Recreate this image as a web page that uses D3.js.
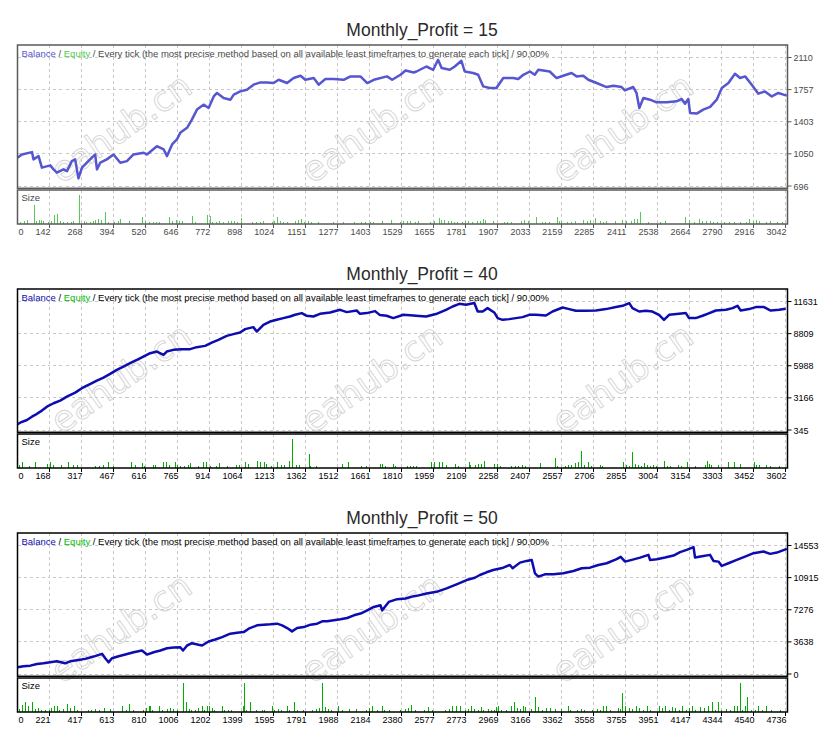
<!DOCTYPE html>
<html>
<head>
<meta charset="utf-8">
<script src="https://cdn.jsdelivr.net/npm/d3@7"></script>
<style>
  body { margin: 0; background: #fff; }
  svg { display: block; }
</style>
</head>
<body>
<svg id="report" width="836" height="741"></svg>
<script>
//titles of the three test reports
var titles = ['Monthly_Profit = 15', 'Monthly_Profit = 40', 'Monthly_Profit = 50'];

var legendRest = ' / Every tick (the most precise method based on all available least timeframes to generate each tick] / 90.00%';

//Monthly_Profit = 15
var xTicks15 = [0, 142, 268, 394, 520, 646, 772, 898, 1024, 1151, 1277, 1403, 1529, 1655, 1781, 1907, 2033, 2159, 2285, 2411, 2538, 2664, 2790, 2916, 3042];
var yTicks15 = [696, 1050, 1403, 1757, 2110];
var trades15 = [16, 33, 73, 79, 99, 112, 145, 158, 171, 197, 211, 230, 243, 256, 270, 289, 322, 329, 342, 368,
    394, 421, 447, 473, 513, 526, 565, 592, 605, 625, 644, 657, 684, 703, 723, 749, 769, 789, 802, 828,
    855, 868, 894, 920, 946, 973, 999, 1025, 1045, 1078, 1104, 1131, 1150, 1183, 1203, 1229, 1262, 1301, 1328, 1367,
    1394, 1420, 1472, 1492, 1525, 1545, 1577, 1588, 1627, 1654, 1673, 1687, 1719, 1739, 1765, 1778, 1811, 1831, 1851, 1877,
    1903, 1930, 1969, 1989, 2009, 2035, 2054, 2068, 2113, 2140, 2166, 2199, 2219, 2245, 2265, 2298, 2337, 2364, 2396, 2409,
    2442, 2455, 2466, 2482, 2508, 2534, 2574, 2613, 2633, 2646, 2659, 2666, 2692, 2718, 2745, 2771, 2791, 2817, 2843, 2863,
    2883, 2909, 2935, 2961, 2988, 3014, 3034, 3047];
var balance15 = [1007, 1043, 1069, 989, 1025, 898, 923, 879, 843, 879, 860, 970, 989, 780, 898, 952, 1043, 879, 952, 989,
    1043, 952, 970, 1043, 1062, 1043, 1134, 1098, 1025, 1153, 1208, 1281, 1336, 1427, 1537, 1591, 1555, 1682, 1720, 1665,
    1646, 1701, 1737, 1756, 1811, 1836, 1836, 1829, 1865, 1829, 1884, 1909, 1865, 1884, 1811, 1873, 1873, 1865, 1902, 1902,
    1829, 1865, 1902, 1865, 1920, 1967, 1945, 1956, 2011, 1975, 2085, 1994, 1975, 2011, 2074, 1956, 1939, 1920, 1792, 1774,
    1774, 1884, 1884, 1873, 1920, 1956, 1920, 1975, 1956, 1884, 1909, 1939, 1902, 1909, 1865, 1829, 1785, 1800, 1785, 1748,
    1785, 1720, 1555, 1665, 1646, 1617, 1617, 1628, 1654, 1602, 1654, 1500, 1493, 1537, 1566, 1646, 1774, 1829, 1931, 1884,
    1902, 1811, 1712, 1737, 1682, 1720, 1701, 1690];
//[trade, size in 0.01 lot]
var sizes15 = [[27, 1.7], [42, 2.3], [54, 4], [82, 19], [90, 2.7], [101, 3.3], [108, 4], [116, 2.7], [136, 1.7], [148, 2.7],
    [160, 9], [171, 10], [183, 2.3], [195, 1.7], [211, 1.7], [227, 1.7], [235, 2.7], [260, 29], [276, 3], [287, 1.7],
    [301, 1.7], [312, 3], [320, 3.3], [334, 5], [344, 3.3], [360, 12], [371, 1.7], [395, 1.7], [411, 2.7], [419, 4.7],
    [454, 2.3], [508, 7], [520, 2.3], [536, 1.7], [548, 1.7], [563, 1.7], [575, 1.7], [611, 7], [623, 2.7], [642, 3.3],
    [654, 2.3], [665, 3], [702, 7.3], [716, 1.7], [761, 8.3], [773, 7.7], [783, 1.7], [799, 1.7], [811, 2.7], [826, 1.7],
    [845, 2.7], [857, 2.3], [869, 2.7], [881, 1.7], [898, 5.7], [940, 1.7], [955, 1.7], [971, 2], [983, 3], [1019, 1.7],
    [1026, 3], [1037, 6.3], [1049, 2.3], [1061, 1.7], [1077, 1.7], [1108, 2.7], [1120, 4], [1132, 4.7], [1144, 1.7], [1159, 2.7],
    [1171, 1.7], [1199, 2], [1261, 2], [1300, 1.7], [1340, 1.7], [1371, 1.7], [1387, 1.7], [1403, 2], [1417, 1.7], [1453, 3],
    [1488, 3.7], [1524, 1.7], [1536, 2.3], [1551, 2.3], [1563, 2.3], [1583, 1.7], [1595, 3], [1641, 1.7], [1657, 2.7], [1676, 5.7],
    [1684, 3.7], [1696, 3.3], [1712, 2.7], [1724, 3], [1736, 2], [1747, 2], [1767, 2], [1779, 3], [1790, 2.3], [1805, 2],
    [1825, 3], [1837, 3], [1849, 4.7], [1857, 4], [1888, 3], [1932, 2], [1943, 1.7], [1959, 1.7], [2001, 3], [2013, 3.7],
    [2029, 3], [2057, 7], [2084, 1.7], [2096, 1.7], [2112, 1.7], [2143, 7], [2151, 2.3], [2158, 3], [2182, 1.7], [2197, 1.7],
    [2213, 3], [2245, 4], [2261, 2.7], [2272, 3.7], [2292, 5.7], [2312, 2.7], [2324, 1.7], [2335, 2.3], [2370, 2.7], [2397, 3.7],
    [2413, 2.7], [2433, 3], [2445, 4.3], [2457, 5], [2468, 12], [2500, 1.7], [2546, 1.7], [2566, 2.3], [2645, 7], [2660, 3.3],
    [2680, 1.7], [2700, 4.7], [2712, 2.7], [2730, 2.3], [2746, 3], [2758, 1.7], [2774, 2], [2801, 1.7], [2821, 2], [2841, 2],
    [2864, 1.7], [2888, 1.7], [2900, 4.7], [2914, 3], [2926, 3.7], [2938, 2.3], [2966, 2], [2981, 2.3], [3009, 2], [3029, 1.7]];

//Monthly_Profit = 40
var xTicks40 = [0, 168, 317, 467, 616, 765, 914, 1064, 1213, 1362, 1512, 1661, 1810, 1959, 2109, 2258, 2407, 2557, 2706, 2855, 3004, 3154, 3303, 3452, 3602];
var yTicks40 = [345, 3166, 5988, 8809, 11631];
var trades40 = [19, 31, 63, 86, 101, 125, 156, 187, 218, 249, 288, 319, 350, 389, 420, 451, 482, 513, 544, 576,
    606, 638, 669, 700, 715, 746, 785, 824, 855, 894, 925, 956, 995, 1026, 1057, 1081, 1119, 1135, 1166, 1197,
    1228, 1259, 1290, 1314, 1345, 1368, 1399, 1430, 1477, 1524, 1555, 1601, 1617, 1648, 1687, 1710, 1741, 1772, 1819, 1865,
    1878, 1925, 1971, 2018, 2049, 2080, 2111, 2150, 2166, 2189, 2212, 2243, 2259, 2282, 2313, 2344, 2375, 2406, 2437, 2484,
    2515, 2562, 2593, 2624, 2671, 2717, 2764, 2811, 2842, 2873, 2888, 2919, 2950, 2981, 3012, 3035, 3059, 3105, 3137, 3152,
    3183, 3215, 3238, 3277, 3324, 3355, 3378, 3393, 3432, 3463, 3502, 3533, 3572, 3603];
var balance40 = [846, 987, 1225, 1515, 1665, 1955, 2395, 2694, 2923, 3274, 3626, 4014, 4305, 4683, 4946, 5271, 5623, 5913, 6214, 6503,
    6793, 7092, 7233, 6943, 7233, 7383, 7444, 7444, 7620, 7734, 8025, 8262, 8614, 8764, 8904, 9203, 9379, 8992, 9582, 9872,
    10022, 10171, 10312, 10462, 10611, 10377, 10312, 10549, 10667, 10901, 10699, 10839, 10549, 10611, 10787, 10435, 10377, 10171, 10462, 10400,
    10377, 10312, 10526, 10901, 11192, 11429, 11341, 11491, 10752, 10752, 11051, 10667, 10171, 10022, 10083, 10171, 10259, 10462, 10462, 10400,
    10752, 11104, 10963, 10813, 10813, 10839, 10963, 11140, 11253, 11491, 11051, 10752, 10813, 10752, 10462, 10022, 10462, 10549, 10611, 10171,
    10171, 10377, 10549, 10839, 10901, 11051, 11253, 10839, 10963, 11140, 11140, 10839, 10901, 10993];
var sizes40 = [[27, 2.7], [41, 5.7], [73, 1.7], [101, 5.7], [156, 4], [170, 6], [184, 2.7], [221, 2.7], [254, 5.7], [277, 2.3],
    [296, 2.7], [379, 1.7], [397, 2], [416, 2.3], [439, 5.7], [463, 1.7], [550, 6], [569, 2.3], [601, 5], [611, 1.7],
    [653, 2.3], [662, 2.7], [699, 5.7], [713, 5.7], [727, 2.7], [754, 5.7], [764, 2.3], [778, 1.7], [796, 1.7], [815, 2.7],
    [824, 4.3], [861, 1.7], [885, 5.7], [896, 5.7], [917, 1.7], [945, 1.7], [958, 5], [996, 2], [1038, 2.3], [1052, 2.7],
    [1079, 6], [1093, 3.3], [1135, 6.7], [1149, 6], [1167, 6], [1176, 3.3], [1200, 1.7], [1228, 6], [1246, 2.7], [1260, 2.7],
    [1284, 6.7], [1300, 29], [1316, 2.7], [1330, 2.3], [1377, 14], [1385, 1.7], [1413, 1.7], [1534, 4], [1562, 6], [1622, 1.7],
    [1645, 1.7], [1710, 3.3], [1720, 4], [1734, 1.7], [1771, 3.3], [1780, 1.7], [1835, 1.7], [1849, 1.7], [1863, 1.7], [1877, 1.7],
    [1947, 6], [1961, 6], [1984, 5.3], [1998, 5.7], [2020, 2.3], [2058, 3.3], [2072, 1.7], [2123, 5.7], [2132, 2.7], [2151, 2.3],
    [2165, 3.3], [2179, 3.3], [2193, 6.7], [2243, 4], [2257, 3.3], [2271, 1.7], [2322, 1.7], [2341, 2], [2355, 1.7], [2374, 2.3],
    [2388, 2], [2456, 4.7], [2526, 10], [2536, 1.7], [2573, 1.7], [2587, 2.3], [2601, 3], [2620, 4.3], [2634, 5.7], [2647, 16.7],
    [2661, 3], [2679, 5.7], [2693, 1.7], [2735, 3], [2744, 1.7], [2842, 5.7], [2856, 2.7], [2874, 1.7], [2888, 16], [2902, 4],
    [2916, 2.3], [2930, 1.7], [2944, 4.3], [2958, 2.3], [2972, 1.7], [2986, 2.3], [3000, 2], [3037, 6.7], [3051, 1.7], [3065, 1.7],
    [3101, 2.3], [3115, 2], [3143, 5.7], [3180, 1.7], [3227, 3], [3236, 6.3], [3246, 3.7], [3255, 3], [3287, 2.3], [3333, 5.7],
    [3361, 5.7], [3389, 4], [3454, 6], [3464, 3], [3478, 2.3], [3509, 2.3], [3528, 1.7], [3570, 2]];

//Monthly_Profit = 50
var xTicks50 = [0, 221, 417, 613, 810, 1006, 1202, 1399, 1595, 1791, 1988, 2184, 2380, 2577, 2773, 2969, 3166, 3362, 3558, 3755, 3951, 4147, 4344, 4540, 4736];
var yTicks50 = [0, 3638, 7276, 10915, 14553];
var trades50 = [25, 61, 103, 144, 184, 225, 266, 317, 348, 389, 440, 491, 543, 563, 583, 604, 645, 686, 737, 788,
    819, 860, 901, 942, 982, 1023, 1040, 1065, 1095, 1136, 1157, 1197, 1238, 1280, 1330, 1372, 1412, 1443, 1494, 1535,
    1576, 1617, 1648, 1679, 1709, 1740, 1781, 1822, 1863, 1894, 1924, 1965, 2006, 2047, 2088, 2129, 2170, 2210, 2251, 2262,
    2302, 2354, 2405, 2456, 2473, 2534, 2595, 2657, 2718, 2780, 2830, 2861, 2902, 2943, 3005, 3045, 3062, 3107, 3148, 3179,
    3199, 3220, 3260, 3312, 3373, 3435, 3486, 3537, 3588, 3639, 3700, 3725, 3752, 3793, 3844, 3895, 3905, 3946, 3997, 4049,
    4089, 4130, 4172, 4181, 4233, 4273, 4294, 4325, 4345, 4386, 4437, 4488, 4540, 4601, 4642, 4683, 4744];
var balance50 = [753, 867, 947, 1140, 1209, 1323, 1437, 1209, 1437, 1551, 1711, 1973, 2281, 1779, 1323, 1779, 2007, 2201, 2463, 2657,
    2201, 2463, 2657, 2920, 3000, 3034, 2657, 3228, 3490, 3307, 3228, 3684, 3912, 4174, 4562, 4676, 4744, 5132, 5509, 5588,
    5623, 5703, 5509, 5201, 4824, 5201, 5315, 5588, 5703, 5965, 5965, 6079, 6193, 6341, 6649, 6843, 7219, 7596, 7790, 7219,
    8166, 8474, 8554, 8816, 8850, 9124, 9306, 9694, 10150, 10641, 10903, 11211, 11519, 11781, 12043, 12351, 11975, 12614, 12808, 12922,
    11405, 11020, 11291, 11291, 11405, 11667, 11975, 12043, 12351, 12546, 13002, 13264, 12728, 12922, 13184, 13492, 12922, 13002, 13184, 13412,
    13800, 14062, 14370, 13184, 13373, 13492, 12808, 12728, 12237, 12546, 12922, 13298, 13686, 13868, 13606, 13754, 14176];
var sizes50 = [[35, 2.3], [53, 6.7], [72, 10], [90, 5.7], [113, 10], [132, 2.7], [150, 4], [169, 1.7], [193, 1.7], [218, 1.7],
    [230, 3.3], [248, 5.7], [267, 5.7], [278, 1.7], [303, 2.7], [327, 7.7], [346, 3.3], [370, 5.7], [389, 1.7], [456, 1.7],
    [474, 1.7], [498, 2.7], [523, 1.7], [553, 3.3], [590, 2.7], [663, 5.7], [688, 1.7], [706, 7.7], [731, 1.7], [792, 1.7],
    [810, 4], [829, 5.7], [840, 5.7], [852, 1.7], [895, 5.7], [914, 1.7], [944, 2.7], [963, 3.3], [981, 2.7], [1006, 1.7],
    [1042, 29], [1060, 10], [1079, 2.7], [1091, 1.7], [1115, 1.7], [1134, 3.3], [1158, 5.7], [1171, 1.7], [1189, 5.7], [1200, 5.7],
    [1219, 3.3], [1231, 1.7], [1280, 5.7], [1292, 1.7], [1317, 1.7], [1335, 1.7], [1408, 5.7], [1414, 29], [1426, 1.7], [1451, 10],
    [1488, 1.7], [1525, 1.7], [1537, 1.7], [1585, 5.7], [1597, 1.7], [1622, 2.7], [1640, 1.7], [1677, 5.7], [1689, 1.7], [1720, 10],
    [1739, 1.7], [1774, 1.7], [1830, 1.7], [1854, 2.7], [1873, 3.3], [1891, 29], [1910, 4.3], [1928, 2.7], [1945, 1.7], [1988, 5.7],
    [2013, 1.7], [2056, 2.7], [2099, 2.7], [2165, 1.7], [2184, 3.3], [2202, 5.7], [2227, 1.7], [2258, 5.7], [2270, 1.7], [2301, 1.7],
    [2373, 1.7], [2404, 2.7], [2422, 3.3], [2441, 7], [2465, 1.7], [2520, 1.7], [2544, 4.3], [2569, 1.7], [2648, 1.7], [2672, 2.7],
    [2690, 5.7], [2715, 5.7], [2740, 5.7], [2770, 1.7], [2789, 2.7], [2807, 5.7], [2826, 2.7], [2850, 1.7], [2868, 4.3], [2880, 1.7],
    [2911, 2.7], [2929, 1.7], [2947, 1.7], [2960, 4.3], [2972, 5.7], [2990, 1.7], [3021, 1.7], [3051, 5.7], [3069, 10], [3088, 3.3],
    [3106, 2.7], [3124, 5.7], [3137, 4.3], [3174, 2.7], [3198, 15], [3217, 4.3], [3240, 1.7], [3265, 3.3], [3289, 3.3], [3320, 2.7],
    [3357, 2.7], [3400, 5.7], [3411, 1.7], [3460, 1.7], [3479, 2.3], [3497, 1.7], [3552, 1.7], [3577, 2.7], [3600, 1.7], [3619, 5.7],
    [3637, 5.7], [3662, 1.7], [3711, 3.3], [3723, 2.7], [3735, 18.3], [3754, 5.7], [3777, 3.3], [3796, 2.7], [3820, 5.7], [3839, 3.3],
    [3863, 1.7], [3888, 5.7], [3906, 1.7], [3961, 5.7], [3979, 3.3], [3997, 5.7], [4022, 1.7], [4040, 4.3], [4059, 4], [4083, 1.7],
    [4102, 5.7], [4126, 1.7], [4145, 3.3], [4162, 5.7], [4181, 1.7], [4211, 4.3], [4236, 3.3], [4260, 5.7], [4285, 10], [4303, 1.7],
    [4322, 10], [4339, 1.7], [4370, 2.7], [4395, 1.7], [4419, 5.7], [4438, 5.7], [4456, 29], [4468, 1.7], [4487, 5.7], [4499, 15],
    [4522, 1.7], [4547, 1.7], [4565, 5.7], [4590, 1.7], [4615, 5.7], [4645, 1.7], [4700, 1.7]];

//layout of one report block
var plotLeft = 17.5;
var plotRight = 787.5;
var gridStep = 32;
var firstTop = 45;
var panelStep = 244;
var mainHeight = 143.3;
var sizeTop = 145;
var sizeBottom = 179;
var font = 'Liberation Sans, Arial, sans-serif';

var panels = [
    {title: titles[0], xTicks: xTicks15, yTicks: yTicks15, trades: trades15, balance: balance15, sizes: sizes15,
     line: '#5656d0', bar: '#58c858', frame: '#5a5a5a', text: '#4a4a4a', equity: '#4ccc4c'},
    {title: titles[1], xTicks: xTicks40, yTicks: yTicks40, trades: trades40, balance: balance40, sizes: sizes40,
     line: '#0c0cb0', bar: '#00b000', frame: '#000', text: '#000', equity: '#00bb00'},
    {title: titles[2], xTicks: xTicks50, yTicks: yTicks50, trades: trades50, balance: balance50, sizes: sizes50,
     line: '#0c0cb0', bar: '#00b000', frame: '#000', text: '#000', equity: '#00bb00'}
];

var svg = d3.select('#report');
var layerGrid = svg.append('g');
var layerMark = svg.append('g');
var layerData = svg.append('g');
var layerText = svg.append('g');

//dashed grid of one block
function drawGrid(p, top, x, y) {
    var g = layerGrid.append('g')
        .attr('stroke', '#c8c8c8')
        .attr('stroke-dasharray', '3,3')
        .attr('shape-rendering', 'crispEdges');
    var gx = p.xTicks.slice(1);

    g.selectAll('.vmain').data(gx).enter().append('line')
        .attr('x1', function(d) { return x(d); })
        .attr('x2', function(d) { return x(d); })
        .attr('y1', top)
        .attr('y2', top + mainHeight);

    g.selectAll('.vsize').data(gx).enter().append('line')
        .attr('x1', function(d) { return x(d); })
        .attr('x2', function(d) { return x(d); })
        .attr('y1', top + sizeTop)
        .attr('y2', top + sizeBottom);

    g.selectAll('.hmain').data(p.yTicks).enter().append('line')
        .attr('x1', plotLeft)
        .attr('x2', plotRight)
        .attr('y1', function(d) { return y(d); })
        .attr('y2', function(d) { return y(d); });
}

//balance line and size bars
function drawData(p, top, x, y, s) {
    var line = d3.line()
        .x(function(d) { return x(d[0]); })
        .y(function(d) { return y(d[1]); });

    layerData.append('path')
        .datum(d3.zip(p.trades, p.balance))
        .attr('d', line)
        .attr('fill', 'none')
        .attr('stroke', p.line)
        .attr('stroke-width', 2.5)
        .attr('stroke-linejoin', 'round');

    layerData.append('g')
        .attr('fill', p.bar)
        .attr('shape-rendering', 'crispEdges')
        .selectAll('rect').data(p.sizes).enter().append('rect')
        .attr('x', function(d) { return Math.round(x(d[0])); })
        .attr('width', 1)
        .attr('y', function(d) { return s(d[1]); })
        .attr('height', function(d) { return s(0) - s(d[1]); });
}

//frames, labels, legend and title
function drawText(p, top, x, y) {
    var g = layerText.append('g');

    g.append('text')
        .attr('x', 422)
        .attr('y', top - 9.5)
        .attr('text-anchor', 'middle')
        .style('font-family', font)
        .style('font-size', '17.5px')
        .style('fill', '#2a2a2a')
        .text(p.title);

    g.append('rect')
        .attr('x', plotLeft).attr('y', top)
        .attr('width', plotRight - plotLeft).attr('height', mainHeight)
        .attr('fill', 'none').attr('stroke', p.frame).attr('stroke-width', 1.5);

    g.append('rect')
        .attr('x', plotLeft).attr('y', top + sizeTop)
        .attr('width', plotRight - plotLeft).attr('height', sizeBottom - sizeTop)
        .attr('fill', 'none').attr('stroke', p.frame).attr('stroke-width', 1.5);

    //legend
    var legend = g.append('text')
        .attr('x', plotLeft + 4)
        .attr('y', top + 12)
        .style('font-family', font)
        .style('font-size', '9.5px')
        .style('fill', p.text);
    legend.append('tspan').style('fill', p.line).text('Balance');
    legend.append('tspan').text(' / ');
    legend.append('tspan').style('fill', p.equity).text('Equity');
    legend.append('tspan').text(legendRest);

    g.append('text')
        .attr('x', plotLeft + 4)
        .attr('y', top + 156)
        .style('font-family', font)
        .style('font-size', '9.5px')
        .style('fill', p.text)
        .text('Size');

    //price axis on the right
    g.selectAll('.ytick').data(p.yTicks).enter().append('line')
        .attr('x1', plotRight).attr('x2', plotRight + 4)
        .attr('y1', function(d) { return y(d); })
        .attr('y2', function(d) { return y(d); })
        .attr('stroke', p.frame);

    g.selectAll('.ylab').data(p.yTicks).enter().append('text')
        .attr('x', plotRight + 6)
        .attr('y', function(d) { return y(d) + 3.5; })
        .style('font-family', font)
        .style('font-size', '9px')
        .style('fill', p.text)
        .text(function(d) { return d; });

    //trade axis at the bottom
    g.selectAll('.xtick').data(p.xTicks.slice(1)).enter().append('line')
        .attr('x1', function(d) { return x(d); })
        .attr('x2', function(d) { return x(d); })
        .attr('y1', top + sizeBottom)
        .attr('y2', top + sizeBottom + 4)
        .attr('stroke', p.frame)
        .attr('shape-rendering', 'crispEdges');

    g.selectAll('.xlab').data(p.xTicks).enter().append('text')
        .attr('x', function(d, i) { return i == 0 ? plotLeft + 1 : x(d) + 1; })
        .attr('y', top + 190)
        .attr('text-anchor', function(d, i) { return i == 0 ? 'start' : 'end'; })
        .style('font-family', font)
        .style('font-size', '9px')
        .style('fill', p.text)
        .text(function(d) { return d; });
}

//tiled site watermark inside the picture
function drawWatermarks() {
    var spots = [];
    for (var r = 0; r < 3; r++) {
        for (var c = 0; c < 3; c++) {
            spots.push([121 + 250.7 * c, 128 + 250 * r]);
        }
    }
    layerMark.selectAll('text').data(spots).enter().append('text')
        .attr('transform', function(d) { return 'translate(' + d[0] + ',' + d[1] + ') rotate(-35)'; })
        .attr('text-anchor', 'middle')
        .attr('dy', '0.35em')
        .style('font-family', 'DejaVu Sans, sans-serif')
        .style('font-size', '35px')
        .style('fill', 'none')
        .style('stroke', '#d4d4d4')
        .style('stroke-width', 0.9)
        .text('eahub.cn');
}

function drawPanel(p, i) {
    var top = firstTop + panelStep * i;
    var last = p.xTicks.length - 1;

    var x = d3.scaleLinear()
        .domain([p.xTicks[1], p.xTicks[last]])
        .range([plotLeft + gridStep, plotLeft + gridStep * last]);
    var y = d3.scaleLinear()
        .domain([p.yTicks[0], p.yTicks[p.yTicks.length - 1]])
        .range([top + 141, top + 12.5]);
    var s = d3.scaleLinear()
        .domain([0, 34])
        .range([top + sizeBottom - 0.5, top + sizeTop - 0.5]);

    drawGrid(p, top, x, y);
    drawData(p, top, x, y, s);
    drawText(p, top, x, y);
}

drawWatermarks();
panels.forEach(drawPanel);
</script>
</body>
</html>
